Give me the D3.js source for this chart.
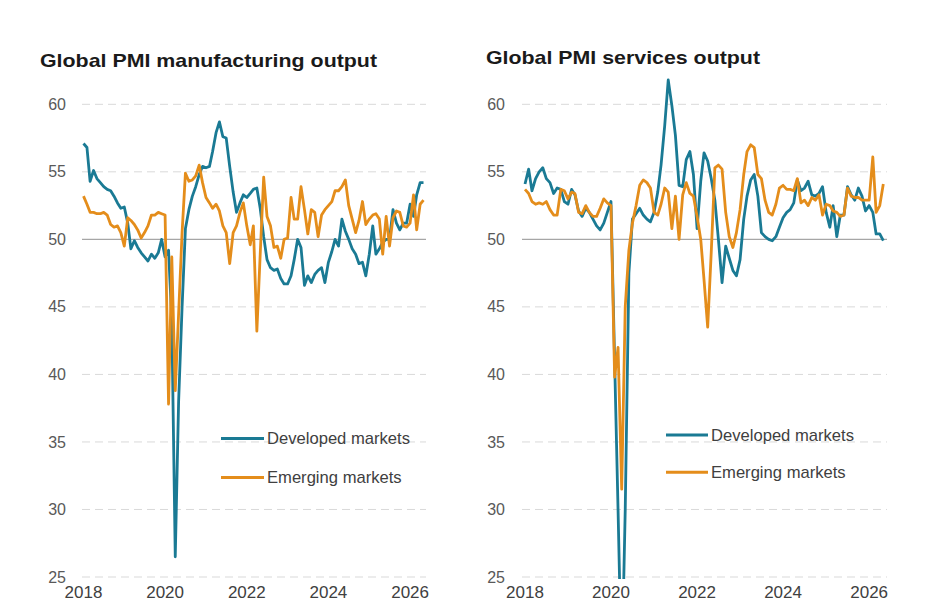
<!DOCTYPE html>
<html><head><meta charset="utf-8">
<script src="https://cdn.jsdelivr.net/npm/d3@7"></script>
<style>body{margin:0;background:#fff;} svg{display:block;font-family:"Liberation Sans",Arial,sans-serif;}</style>
</head><body><svg id="c" width="950" height="606"></svg>
<script>
// ---- data (monthly, Jan 2018 .. May 2026) ----
const yearLabels = ["2018","2020","2022","2024","2026"];
const yTicks = [25,30,35,40,45,50,55,60];
const seriesNames = ["Developed markets","Emerging markets"];
const titles = ["Global PMI manufacturing output","Global PMI services output"];

const dmMfg = [57.1,56.8,54.3,55.1,54.5,54.2,53.9,53.7,53.6,53.2,52.7,52.3,52.4,51.2,49.3,49.9,49.4,49.0,48.7,48.4,48.9,48.6,49.0,50.0,48.7,
  49.2,44.0,26.5,38.0,45.0,50.8,52.2,53.2,53.9,54.8,55.4,55.3,55.4,56.5,57.9,58.7,57.6,57.5,55.4,53.5,52.0,52.7,53.3,53.1,53.4,53.7,
  53.8,52.3,50.2,48.5,47.9,47.7,47.8,47.1,46.7,46.7,47.3,48.5,50.0,49.4,46.6,47.3,46.8,47.4,47.7,47.9,46.8,48.3,49.1,50.0,49.5,
  51.5,50.6,50.0,49.3,48.9,48.2,48.3,47.3,48.9,51.0,48.9,49.3,49.8,50.0,50.0,52.2,51.2,50.7,51.2,51.2,52.6,51.7,53.3,54.2,54.2];
const emMfg = [53.2,52.6,52.0,52.0,51.9,51.9,52.0,51.8,51.1,50.9,51.0,50.5,49.5,51.6,51.4,51.1,50.7,50.1,50.5,51.0,51.8,51.8,52.0,51.9,51.8,
  37.8,48.7,38.8,44.5,50.5,54.9,54.3,54.4,54.7,55.5,54.2,53.1,52.7,52.3,52.6,52.1,51.0,50.5,48.2,50.5,51.0,52.0,52.7,51.0,49.6,51.0,
  43.2,48.9,54.6,51.7,51.0,49.4,49.5,48.6,50.0,50.1,53.1,51.5,51.5,53.9,52.2,50.4,52.2,52.0,50.2,51.8,52.2,52.5,52.8,53.6,53.6,
  53.9,54.4,52.5,51.5,50.5,51.4,52.8,51.1,51.5,51.8,51.9,51.5,48.9,51.7,49.5,51.6,52.1,52.0,51.0,50.9,51.2,53.3,50.7,52.6,52.9];
const dmSvc = [54.1,55.2,53.6,54.5,55.0,55.3,54.5,54.2,53.4,53.8,53.7,52.8,52.6,53.7,53.3,52.1,51.7,52.3,52.0,51.5,51.0,50.7,51.2,52.0,52.8,
  41.0,30.0,17.5,30.0,47.5,51.5,51.9,52.3,51.8,51.5,51.3,52.0,53.5,55.5,58.4,61.8,59.9,57.7,54.0,53.9,55.9,56.5,54.8,50.8,54.3,56.4,
  55.8,54.5,52.9,50.0,46.8,49.5,48.6,47.7,47.3,48.5,51.5,53.2,54.4,54.8,53.2,50.5,50.2,50.0,49.9,50.2,50.9,51.6,52.0,52.2,52.7,
  54.4,53.6,53.8,54.3,53.3,53.2,53.4,53.9,52.0,50.9,52.5,50.2,51.8,51.8,53.9,53.3,52.9,53.8,53.2,52.1,52.5,52.0,50.4,50.4,49.9];
const emSvc = [53.7,53.4,52.8,52.6,52.7,52.6,52.8,52.2,51.8,51.8,53.7,53.6,53.0,53.5,53.4,52.0,51.9,52.5,52.0,51.7,51.7,52.3,53.0,52.7,52.5,
  39.8,42.0,31.5,45.0,49.2,51.2,52.5,54.0,54.4,54.2,53.8,52.0,51.8,52.6,53.8,53.5,50.8,53.2,50.0,53.3,54.2,53.4,53.2,51.7,50.0,47.0,
  43.5,49.0,55.3,55.5,55.2,52.0,50.2,49.4,50.5,52.2,54.8,56.5,57.0,56.8,54.8,54.5,52.9,52.0,51.8,52.6,53.8,54.0,53.7,53.7,53.6,
  54.5,52.7,52.9,52.5,53.1,52.9,53.3,51.8,52.6,52.5,52.1,52.0,51.7,51.8,53.8,53.2,53.1,53.1,52.9,52.9,52.9,56.1,52.0,52.5,54.1];

const months = d3.timeMonth.range(new Date(2018,0,1), new Date(2026,5,1));
const tickYears = yearLabels.map(y => new Date(+y,0,1));

const colors = {dm:"#1a7a94", em:"#e48d1b"};
const svg = d3.select("#c");

const panels = [
  {title:titles[0], tx:40, ty:67, tlen:337, r0:83.5, r1:423.5, g0:82, g1:426, ylx:66,
   lx0:221, lx1:264, ly:[438.5,477.5], dm:dmMfg, em:emMfg, id:"p0"},
  {title:titles[1], tx:486, ty:64, tlen:274, r0:525, r1:883.3, g0:522, g1:887, ylx:505,
   lx0:666, lx1:708, ly:[435,472.3], dm:dmSvc, em:emSvc, id:"p1"}
];

const y = d3.scaleLinear().domain([25,60]).range([577,104.3]);

panels.forEach(p => {
  const x = d3.scaleTime().domain([months[0], months[months.length-1]]).range([p.r0, p.r1]);
  const g = svg.append("g");

  g.append("text").attr("x",p.tx).attr("y",p.ty).text(p.title)
    .attr("font-size",19).attr("font-weight","bold").attr("fill","#1a1a1a")
    .attr("textLength",p.tlen).attr("lengthAdjust","spacingAndGlyphs");

  // gridlines
  g.selectAll("line.grid").data(yTicks.filter(t=>t!==50)).enter().append("line")
    .attr("x1",p.g0).attr("x2",p.g1).attr("y1",d=>y(d)).attr("y2",d=>y(d))
    .attr("stroke","#d9d9d9").attr("stroke-width",1).attr("stroke-dasharray","8,5");
  g.append("line").attr("x1",p.g0).attr("x2",p.g1).attr("y1",y(50)).attr("y2",y(50))
    .attr("stroke","#a6a6a6").attr("stroke-width",1.2);

  // y labels
  g.selectAll("text.yl").data(yTicks).enter().append("text")
    .attr("x",p.ylx).attr("y",d=>y(d)+5.6).attr("text-anchor","end")
    .attr("font-size",16).attr("fill","#595959").text(d=>d);

  // x labels
  g.selectAll("text.xl").data(tickYears).enter().append("text")
    .attr("x",d=>x(d)).attr("y",598).attr("text-anchor","middle")
    .attr("font-size",17).attr("fill","#404040").text((d,i)=>yearLabels[i]);

  // clip (values below the 25 baseline are cut off)
  svg.append("clipPath").attr("id","clip"+p.id).append("rect")
    .attr("x",p.g0-5).attr("y",70).attr("width",p.g1-p.g0+10).attr("height",509);

  const line = d3.line().x((d,i)=>x(months[i])).y(d=>y(d)).curve(d3.curveLinear);
  const lg = g.append("g").attr("clip-path","url(#clip"+p.id+")");
  lg.append("path").attr("d",line(p.dm)).attr("fill","none").attr("stroke",colors.dm)
    .attr("stroke-width",2.8).attr("stroke-linejoin","round");
  lg.append("path").attr("d",line(p.em)).attr("fill","none").attr("stroke",colors.em)
    .attr("stroke-width",2.8).attr("stroke-linejoin","round");

  // legend
  [colors.dm, colors.em].forEach((c,k) => {
    g.append("line").attr("x1",p.lx0).attr("x2",p.lx1).attr("y1",p.ly[k]).attr("y2",p.ly[k])
      .attr("stroke",c).attr("stroke-width",3);
    g.append("text").attr("x",p.lx1+3).attr("y",p.ly[k]+5.8).attr("font-size",16.6)
      .attr("fill","#404040").text(seriesNames[k]);
  });
});
</script></body></html>
